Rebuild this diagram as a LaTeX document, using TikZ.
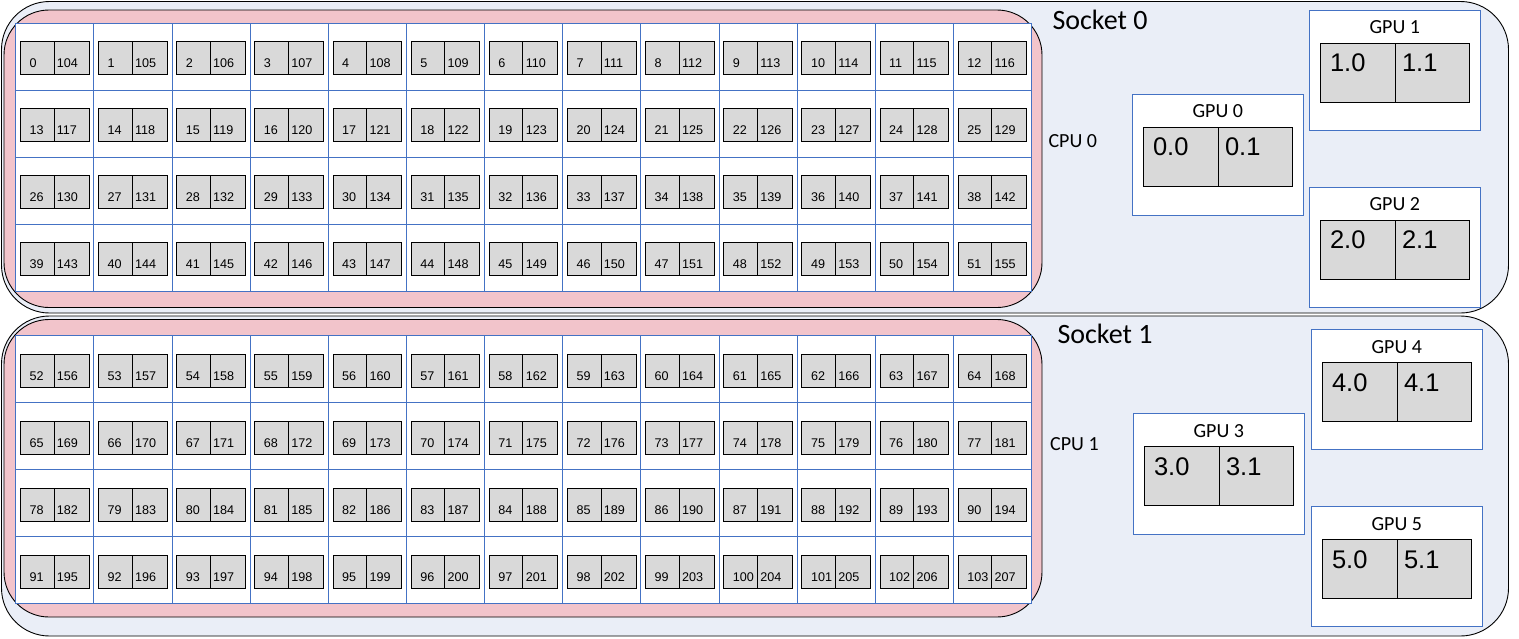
\documentclass[tikz,border=0pt]{standalone}
\usepackage{fontspec}
\setmainfont{Liberation Sans}
\newfontfamily\calfont{Carlito}
\definecolor{sockfill}{HTML}{EAEEF7}
\definecolor{cpufill}{HTML}{F2C4CB}
\definecolor{gridblue}{HTML}{4472C4}
\definecolor{coregray}{HTML}{D9D9D9}
\tikzset{
  sockbox/.style={draw=black, line width=0.9pt, fill=sockfill, rounded corners=48pt},
  cpubox/.style={draw=black, line width=0.9pt, fill=cpufill, rounded corners=45pt},
  cellbox/.style={draw=gridblue, line width=1pt},
  corebox/.style={draw=black, line width=0.9pt, fill=coregray},
  corenum/.style={font=\fontsize{12.6}{14}\selectfont, anchor=base west, inner sep=0pt},
  gpubox/.style={draw=gridblue, line width=1pt, fill=white},
  gpunum/.style={font=\fontsize{25.5}{28}\selectfont, anchor=base west, inner sep=0pt},
  gpulabel/.style={font=\calfont\fontsize{20}{22}\selectfont, anchor=base, inner sep=0pt},
  socklabel/.style={font=\calfont\fontsize{28}{30}\selectfont, anchor=base west, inner sep=0pt},
  cpulabel/.style={font=\calfont\fontsize{20}{22}\selectfont, anchor=base west, inner sep=0pt}
}
\newcommand\gpuunit[4]{% id, x, y, box height
  \draw[gpubox] (#2,#3) rectangle ++(171,#4);
  \node[gpulabel] (gpu#1) at (#2+85.5,#3+23.6) {GPU #1};
  \draw[corebox] (#2+11,#3+33) rectangle ++(75,59);
  \draw[corebox] (#2+86,#3+33) rectangle ++(74,59);
  \node[gpunum] (g#1a) at (#2+20.5,#3+61.3) {#1.0};
  \node[gpunum] (g#1b) at (#2+92.5,#3+61.3) {#1.1};
}
\begin{document}
\begin{tikzpicture}[x=1pt,y=-1pt]
\useasboundingbox (0,0) rectangle (1519,638);
\fill[white] (0,0) rectangle (1519,638);
% sockets
\draw[sockbox] (1.5,1.5) rectangle (1508.5,313);
\draw[sockbox] (1.5,316) rectangle (1508.5,636);
% cpu packages
\draw[cpubox] (4,10) rectangle (1042,307.5);
\draw[cpubox] (4,319.5) rectangle (1042,617);
% core grids
\foreach \s/\gtop in {0/23.3, 1/335.6} {
  \fill[white] (15.7,\gtop) rectangle ++(1015.95,268);
  \foreach \r in {0,...,3} {
    \foreach \c in {0,...,12} {
      \pgfmathsetmacro\cx{15.7+\c*78.15}
      \pgfmathsetmacro\cy{\gtop+\r*67}
      \pgfmathtruncatemacro\na{\s*52+\r*13+\c}
      \pgfmathtruncatemacro\nb{\na+104}
      \draw[cellbox] (\cx,\cy) rectangle ++(78.15,67);
      \draw[corebox] (\cx+4.7,\cy+18.5) rectangle ++(33.6,33);
      \draw[corebox] (\cx+38.3,\cy+18.5) rectangle ++(35,33);
      \node[corenum] (n\na) at (\cx+13.6,\cy+44.5) {\na};
      \node[corenum] (n\nb) at (\cx+41,\cy+44.5) {\nb};
    }
  }
}
% labels
\node[socklabel] (sock0) at (1052.3,29.3) {Socket 0};
\node[socklabel] (sock1) at (1057.3,343.3) {Socket 1};
\node[cpulabel] (cpu0) at (1048.3,147.7) {CPU 0};
\node[cpulabel] (cpu1) at (1050,450) {CPU 1};
% GPUs
\gpuunit{0}{1132.3}{94.3}{121}
\gpuunit{1}{1309.3}{10.3}{120}
\gpuunit{2}{1309.3}{187.3}{119.7}
\gpuunit{3}{1133.3}{413.7}{120.3}
\gpuunit{4}{1311.3}{329.7}{119.6}
\gpuunit{5}{1311.3}{506.7}{119.6}
\end{tikzpicture}
\end{document}
